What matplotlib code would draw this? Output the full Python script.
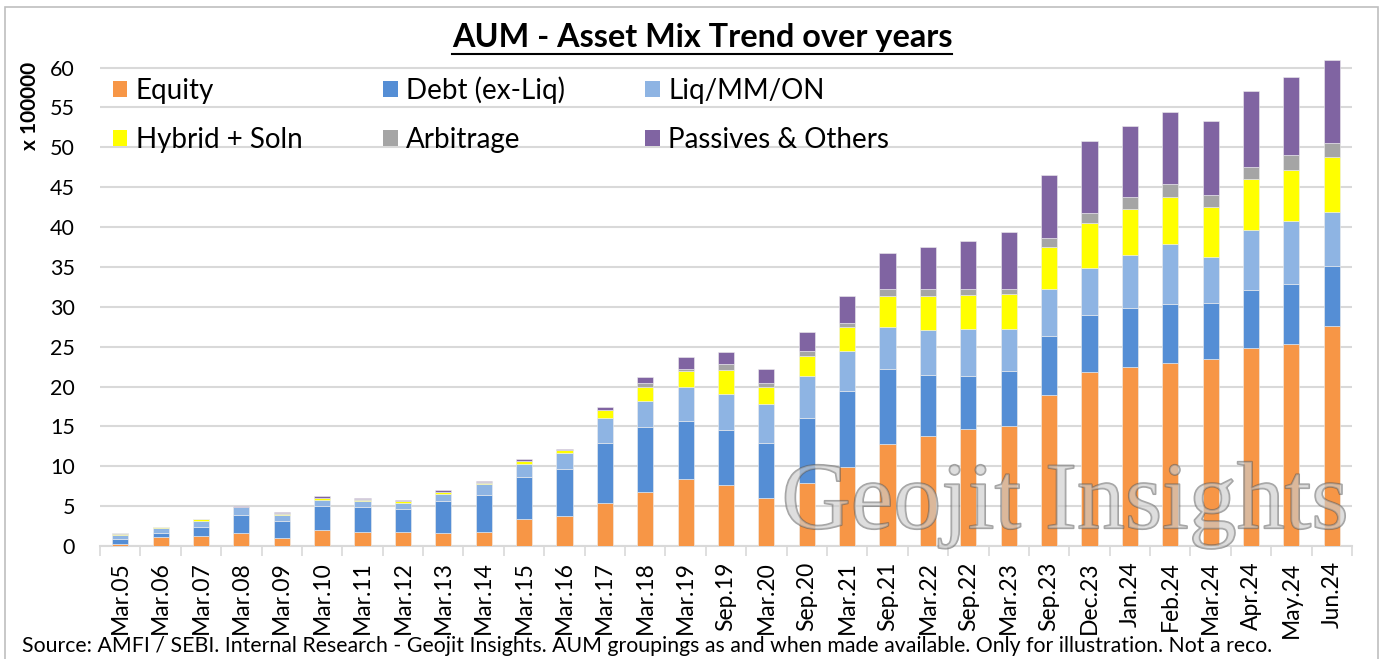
import matplotlib
matplotlib.use("Agg")
import matplotlib.pyplot as plt
import matplotlib.patheffects as pe
from matplotlib.patches import Rectangle, Patch
from matplotlib.lines import Line2D
import numpy as np

plt.rcParams['font.family'] = ['Lato', 'DejaVu Sans']

periods = ["Mar.05", "Mar.06", "Mar.07", "Mar.08", "Mar.09", "Mar.10", "Mar.11", "Mar.12",
           "Mar.13", "Mar.14", "Mar.15", "Mar.16", "Mar.17", "Mar.18", "Mar.19", "Sep.19",
           "Mar.20", "Sep.20", "Mar.21", "Sep.21", "Mar.22", "Sep.22", "Mar.23", "Sep.23",
           "Dec.23", "Jan.24", "Feb.24", "Mar.24", "Apr.24", "May.24", "Jun.24"]

# AUM in units of 100000
equity = [0.3, 1.1, 1.25, 1.6, 1.05, 2.05, 1.8, 1.8, 1.6, 1.8, 3.4, 3.75, 5.45, 6.8, 8.35, 7.6,
          6.05, 7.85, 9.9, 12.85, 13.75, 14.7, 15.1, 18.95, 21.8, 22.5, 23.0, 23.4, 24.8, 25.3, 27.65]
debt = [0.55, 0.55, 1.15, 2.3, 2.1, 3.0, 3.1, 2.9, 4.05, 4.6, 5.3, 5.9, 7.5, 8.15, 7.35, 6.9,
        6.9, 8.25, 9.6, 9.4, 7.75, 6.6, 6.8, 7.35, 7.15, 7.3, 7.3, 7.1, 7.3, 7.55, 7.5]
liquid = [0.55, 0.55, 0.75, 0.95, 0.7, 0.75, 0.7, 0.7, 0.85, 1.35, 1.6, 1.95, 3.1, 3.25, 4.25, 4.6,
          4.85, 5.2, 4.9, 5.25, 5.55, 5.9, 5.3, 5.95, 5.95, 6.7, 7.55, 5.8, 7.5, 7.85, 6.75]
hybrid = [0.15, 0.15, 0.2, 0.05, 0.2, 0.2, 0.2, 0.2, 0.25, 0.2, 0.35, 0.4, 0.95, 1.75, 1.95, 2.95,
          2.15, 2.5, 3.1, 3.8, 4.25, 4.3, 4.45, 5.2, 5.6, 5.75, 5.95, 6.15, 6.4, 6.45, 6.9]
arbitrage = [0.02, 0.02, 0.02, 0.02, 0.05, 0.05, 0.05, 0.05, 0.05, 0.05, 0.05, 0.05, 0.1, 0.55, 0.35, 0.75,
             0.55, 0.6, 0.5, 0.95, 0.95, 0.75, 0.6, 1.15, 1.3, 1.55, 1.55, 1.55, 1.5, 1.85, 1.75]
passives = [0.05, 0.06, 0.06, 0.15, 0.2, 0.2, 0.2, 0.15, 0.2, 0.15, 0.15, 0.15, 0.35, 0.75, 1.45, 1.55,
            1.75, 2.45, 3.3, 4.45, 5.2, 5.95, 7.15, 7.9, 9.0, 8.9, 9.05, 9.3, 9.6, 9.85, 10.4]

series = [("Equity", equity, "#F79646"),
          ("Debt (ex-Liq)", debt, "#558ED5"),
          ("Liq/MM/ON", liquid, "#8EB4E3"),
          ("Hybrid + Soln", hybrid, "#FFFF00"),
          ("Arbitrage", arbitrage, "#A5A5A5"),
          ("Passives & Others", passives, "#8064A2")]

W, H = 1389, 659
fig = plt.figure(figsize=(W / 100, H / 100), dpi=100)
ax = fig.add_axes([100 / W, 1 - 546 / H, 1252 / W, 496 / H])

x = np.arange(len(periods))
bottom = np.zeros(len(periods))
handles = []
for name, vals, col in series:
    ax.bar(x, vals, width=0.4, bottom=bottom, color=col, edgecolor="#eeeeee",
           linewidth=0.4, zorder=3)
    bottom += np.array(vals)
    handles.append(Patch(facecolor=col, edgecolor="none", label=name))

ax.set_xlim(-0.5, len(periods) - 0.5)
ax.set_ylim(0, 62.2)
ax.set_yticks(np.arange(0, 61, 5))
ax.yaxis.grid(True, color="#D9D9D9", linewidth=1.5, zorder=0)
ax.set_axisbelow(True)
for s in ["top", "right", "left"]:
    ax.spines[s].set_visible(False)
ax.spines["bottom"].set_color("#D9D9D9")
ax.spines["bottom"].set_linewidth(1.5)

ax.set_xticks(x)
ax.set_xticklabels(periods, rotation=90, fontsize=16.5)
ax.set_xticks(np.arange(-0.5, len(periods)), minor=True)
ax.tick_params(axis="x", which="major", length=0, pad=11)
ax.tick_params(axis="x", which="minor", length=7, color="#D9D9D9", width=1.2)
ax.tick_params(axis="y", length=0, pad=18, labelsize=15.5)

# legend: rows Equity/Debt/Liq then Hybrid/Arb/Passives
order = [0, 3, 1, 4, 2, 5]
ax.legend([handles[i] for i in order], [series[i][0] for i in order], ncol=3,
          loc="upper left", bbox_to_anchor=(113 / W, 1 - 76 / H), bbox_transform=fig.transFigure,
          frameon=False, fontsize=20, handlelength=0.52, handleheight=0.52,
          handletextpad=0.3, columnspacing=2.9, labelspacing=0.85, borderpad=0,
          borderaxespad=0)

title = fig.text(702 / W, 1 - 38 / H, "AUM - Asset Mix Trend over years", ha="center",
                 va="center", fontsize=23.3, fontweight="bold")
fig.text(30 / W, 1 - 106 / H, "x 100000", rotation=90, ha="center", va="center",
         fontsize=15, fontweight="bold")
fig.text(22 / W, 1 - 646 / H, "Source: AMFI / SEBI. Internal Research - Geojit Insights. AUM groupings "
         "as and when made available. Only for illustration. Not a reco.",
         ha="left", va="center", fontsize=15.3)

wm = fig.text(1065 / W, 1 - 505 / H, "Geojit Insights", ha="center", va="center",
              fontsize=69, family="Liberation Serif", color=(0.8, 0.8, 0.8, 0.4), zorder=10)
wm.set_path_effects([pe.withStroke(linewidth=1.3, foreground=(0.35, 0.35, 0.35, 0.55))])

fig.add_artist(Rectangle((5 / W, -0.01), 1373 / W, 1 - 7 / H + 0.01, transform=fig.transFigure,
                         fill=False, edgecolor="#BFBFBF", linewidth=1.2))

fig.canvas.draw()
bb = title.get_window_extent()
fig.add_artist(Line2D([bb.x0, bb.x1], [bb.y0 - 1, bb.y0 - 1], color="black", linewidth=1.5,
                      transform=None))

fig.savefig("out.png", dpi=100)
